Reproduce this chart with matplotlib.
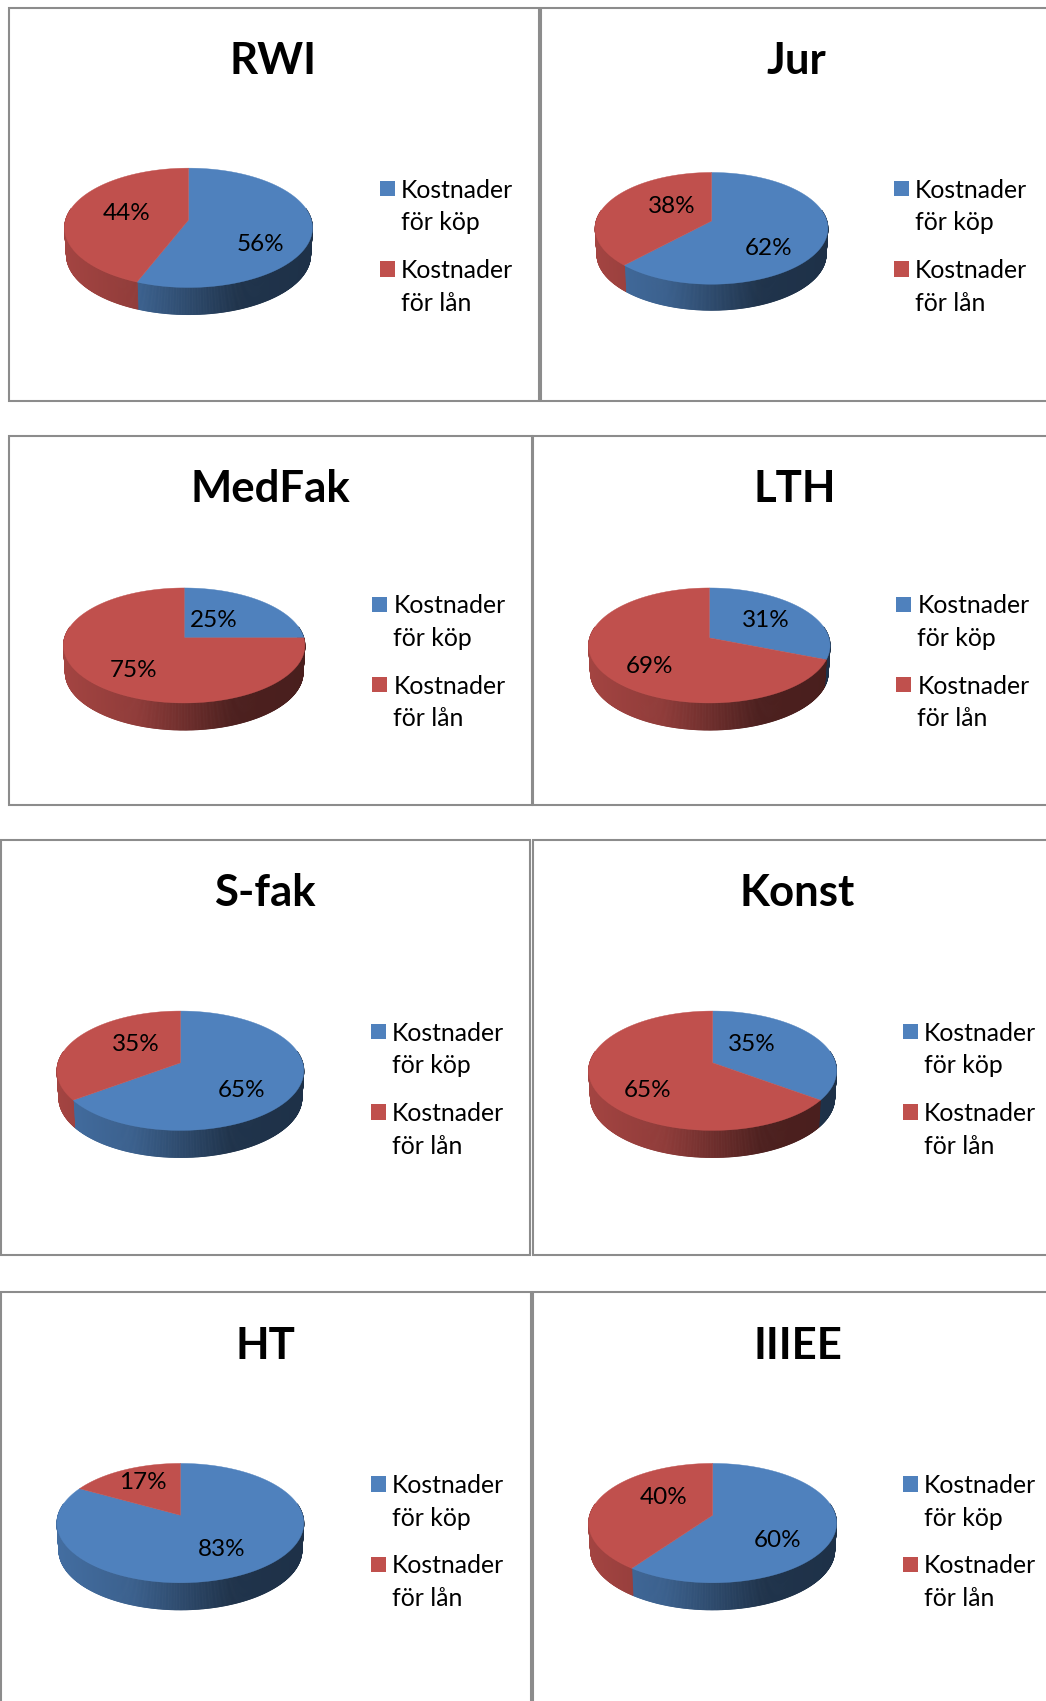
import numpy as np
import matplotlib
matplotlib.use("Agg")
import matplotlib.pyplot as plt
from matplotlib.collections import PolyCollection
from matplotlib.patches import Polygon, Rectangle

# --- data ---
titles = ["RWI", "Jur", "MedFak", "LTH", "S-fak", "Konst", "HT", "IIIEE"]
kop_pct = [56, 62, 25, 31, 65, 35, 83, 60]
lan_pct = [44, 38, 75, 69, 35, 65, 17, 40]
legend_lines = [["Kostnader", "för köp"], ["Kostnader", "för lån"]]

# --- layout (in the 964-wide preview's units) ---
S = 1046 / 964
W, H = 964, 1568
panels = [(8, 7, 497, 370), (499, 7, 990, 370), (8, 402, 490, 742), (491, 402, 990, 742),
          (1, 774, 488, 1157), (491, 774, 990, 1157), (1, 1191, 489, 1600), (491, 1191, 990, 1600)]
pies = [(59.5, 288, 155, 265, 290), (548.5, 763, 159, 262, 286), (58.5, 281, 542, 648, 673), (542.5, 765, 542, 648, 673),
        (52.5, 280, 932, 1042, 1067), (542.5, 771, 932, 1042, 1067), (52.5, 280, 1349, 1459, 1484), (542.5, 771, 1349, 1459, 1484)]
title_pos = [(252, 56.5), (734, 56.5), (249, 450.5), (732, 450.5), (244, 823.5), (735, 823.5), (245, 1240.5), (735, 1240.5)]
legend_pos = [(350, 174), (824, 174), (343, 557), (826, 557), (342, 951), (832, 951), (342, 1368), (832, 1368)]
kop_label_pos = [(240, 225), (708, 229), (197, 572), (705.5, 572), (223, 1005), (693, 963), (204, 1428), (717, 1420)]
lan_label_pos = [(117, 197), (619, 190), (123, 618), (599, 614), (125, 963), (597, 1005), (132, 1367), (612, 1380)]

BLUE = np.array(matplotlib.colors.to_rgb("#4F81BD"))
RED = np.array(matplotlib.colors.to_rgb("#C0504D"))
FRAME = "#8C8C8C"
K = 0.132  # perspective strength of the 3D pie


def shade(t):
    return np.interp(t, [0, 0.3, 0.7, 1], [0.85, 0.75, 0.40, 0.38])


def project(a, box):
    """Disc angle (clockwise from 12 o'clock) to screen position on the rim."""
    x0, x1, y0, y1, _ = box
    cx, rx, ry = (x0 + x1) / 2, (x1 - x0) / 2, (y1 - y0) / 2
    A, B = rx * np.sqrt(1 - K ** 2), ry * (1 - K ** 2)
    ax_y = y0 + B / (1 + K)
    u, v = np.sin(a), np.cos(a)
    d = 1 + K * v
    return cx + A * u / d, ax_y - B * v / d, (cx, ax_y)


plt.rcParams["font.family"] = ["Lato", "DejaVu Sans"]
fig = plt.figure(figsize=(10.46, 17.01), dpi=100)
ax = fig.add_axes([0, 0, 1, 1])
ax.set_xlim(0, W)
ax.set_ylim(H, 0)
ax.axis("off")

for i, title in enumerate(titles):
    l, t, r, b = panels[i]
    ax.add_patch(Rectangle((l, t), r - l, b - t, fc="white", ec=FRAME, lw=1.5, zorder=1))

    box = pies[i]
    x0, x1, y0, y1, yb = box
    depth = yb - y1
    split = 2 * np.pi * kop_pct[i] / (kop_pct[i] + lan_pct[i])

    # side wall
    quads, cols = [], []
    grid = np.linspace(0, 2 * np.pi, 721)
    for a0, a1 in zip(grid[:-1], grid[1:]):
        if np.cos((a0 + a1) / 2) > 0.2:
            continue
        xa, ya, c = project(a0, box)
        xb, yb_, _ = project(a1, box)
        inset = 0.985
        quads.append([(xa, ya), (xb, yb_),
                      (c[0] + (xb - c[0]) * inset, yb_ + depth),
                      (c[0] + (xa - c[0]) * inset, ya + depth)])
        tt = ((xa + xb) / 2 - x0) / (x1 - x0)
        base = BLUE if (a0 + a1) / 2 < split else RED
        cols.append(base * shade(tt))
    ax.add_collection(PolyCollection(quads, facecolors=cols, edgecolors=cols, linewidths=0.6, zorder=2))

    # top surface
    for start, end, col in [(0, split, BLUE), (split, 2 * np.pi, RED)]:
        aa = np.linspace(start, end, 300)
        px, py, c = project(aa, box)
        pts = np.column_stack([np.r_[c[0], px], np.r_[c[1], py]])
        ax.add_patch(Polygon(pts, closed=True, fc=col, ec=col, lw=0.3, zorder=3))

    # texts
    ax.text(*title_pos[i], title, ha="center", va="center", fontsize=31.5, fontweight="bold", color="black", zorder=5)
    ax.text(*kop_label_pos[i], f"{kop_pct[i]}%", ha="center", va="center", fontsize=17.5, color="black", zorder=5)
    ax.text(*lan_label_pos[i], f"{lan_pct[i]}%", ha="center", va="center", fontsize=17.5, color="black", zorder=5)

    # legend
    lx, ly = legend_pos[i]
    for j, (lines, col) in enumerate(zip(legend_lines, [BLUE, RED])):
        y = ly + 74 * j
        ax.add_patch(Rectangle((lx, y - 7), 14, 14, fc=col, ec="none", zorder=4))
        for k, line in enumerate(lines):
            ax.text(lx + 19.5, y + 30 * k + 1.5, line, ha="left", va="center", fontsize=17.8, color="black", zorder=5)

fig.savefig("out.png", dpi=100, facecolor="white")
